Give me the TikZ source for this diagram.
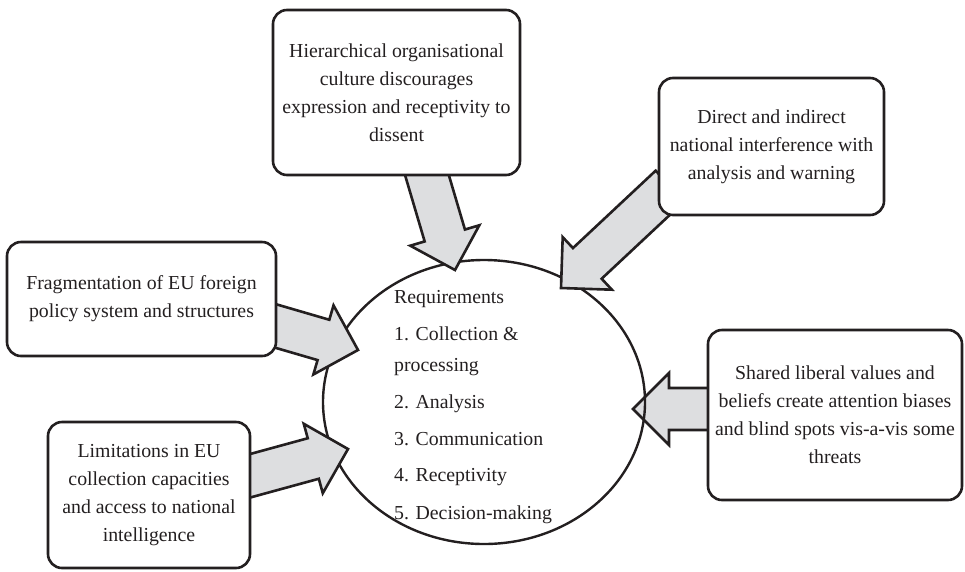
\documentclass[tikz,border=0pt]{standalone}
\usepackage{fontspec}
\setmainfont{Liberation Serif}
\usetikzlibrary{calc,shapes.geometric}
\definecolor{arrowgray}{RGB}{221,222,224}
\definecolor{ink}{RGB}{35,31,32}
\newcommand\arrW{21pt}
\newcommand\arrH{36pt}
\newcommand\arrL{36pt}
\newcommand\blockarrow[2]{%
  \coordinate (ba-b) at ($(#2)!\arrL!(#1)$);
  \filldraw[blockarr] ($(#1)!\arrW!90:(#2)$) -- ($(ba-b)!\arrW!90:(#2)$) -- ($(ba-b)!\arrH!90:(#2)$) -- (#2)
    -- ($(ba-b)!\arrH!-90:(#2)$) -- ($(ba-b)!\arrW!-90:(#2)$) -- ($(#1)!\arrW!-90:(#2)$) -- cycle;
}
\tikzset{
  blockarr/.style={fill=arrowgray, draw=ink, line width=2.6pt, line join=miter},
  boxnode/.style={draw=ink, fill=white, line width=2.6pt, rounded corners=14pt, align=center,
    inner sep=0pt, text=ink, font=\fontsize{19.8}{28}\selectfont},
  reqline/.style={anchor=base west, inner sep=0pt, text=ink, font=\fontsize{19.8}{24}\selectfont},
}
\begin{document}
\begin{tikzpicture}[x=1pt,y=-1pt]
\useasboundingbox (0,0) rectangle (965,571);
% arrow endpoints
\coordinate (S1) at (421,155); \coordinate (T1) at (455,270);
\coordinate (S2) at (670,186); \coordinate (T2) at (561,288);
\coordinate (S3) at (262,322); \coordinate (T3) at (358,350);
\coordinate (S4) at (242,478); \coordinate (T4) at (348,449);
\coordinate (S5) at (720,409); \coordinate (T5) at (633,409);
\blockarrow{S5}{T5}
\node[draw=ink, line width=2.4pt, ellipse, minimum width=322, minimum height=284, inner sep=0pt] (req) at (484,402) {};
\blockarrow{S1}{T1}
\blockarrow{S2}{T2}
\blockarrow{S3}{T3}
\blockarrow{S4}{T4}
% boxes
\node[boxnode, minimum width=247, minimum height=165] (b1) at (396.5,92.5)
  {Hierarchical organisational\\culture discourages\\expression and receptivity to\\dissent};
\node[boxnode, minimum width=225, minimum height=137] (b2) at (771.5,146.5)
  {Direct and indirect\\national interference with\\analysis and warning};
\node[boxnode, minimum width=269, minimum height=114] (b3) at (141.5,299)
  {Fragmentation of EU foreign\\policy system and structures};
\node[boxnode, minimum width=202, minimum height=146] (b4) at (149,495)
  {Limitations in EU\\collection capacities\\and access to national\\intelligence};
\node[boxnode, minimum width=254, minimum height=170] (b5) at (835,415)
  {Shared liberal values and\\beliefs create attention biases\\and blind spots vis-a-vis some\\threats};
% requirements text
\node[reqline] (r0) at (394,303) {Requirements};
\node[reqline] (r1) at (394,340.7) {1. Collection \&};
\node[reqline] (r1b) at (394,371.7) {processing};
\node[reqline] (r2) at (394,408) {2. Analysis};
\node[reqline] (r3) at (394,445) {3. Communication};
\node[reqline] (r4) at (394,481.7) {4. Receptivity};
\node[reqline] (r5) at (394,519) {5. Decision-making};
\end{tikzpicture}
\end{document}
